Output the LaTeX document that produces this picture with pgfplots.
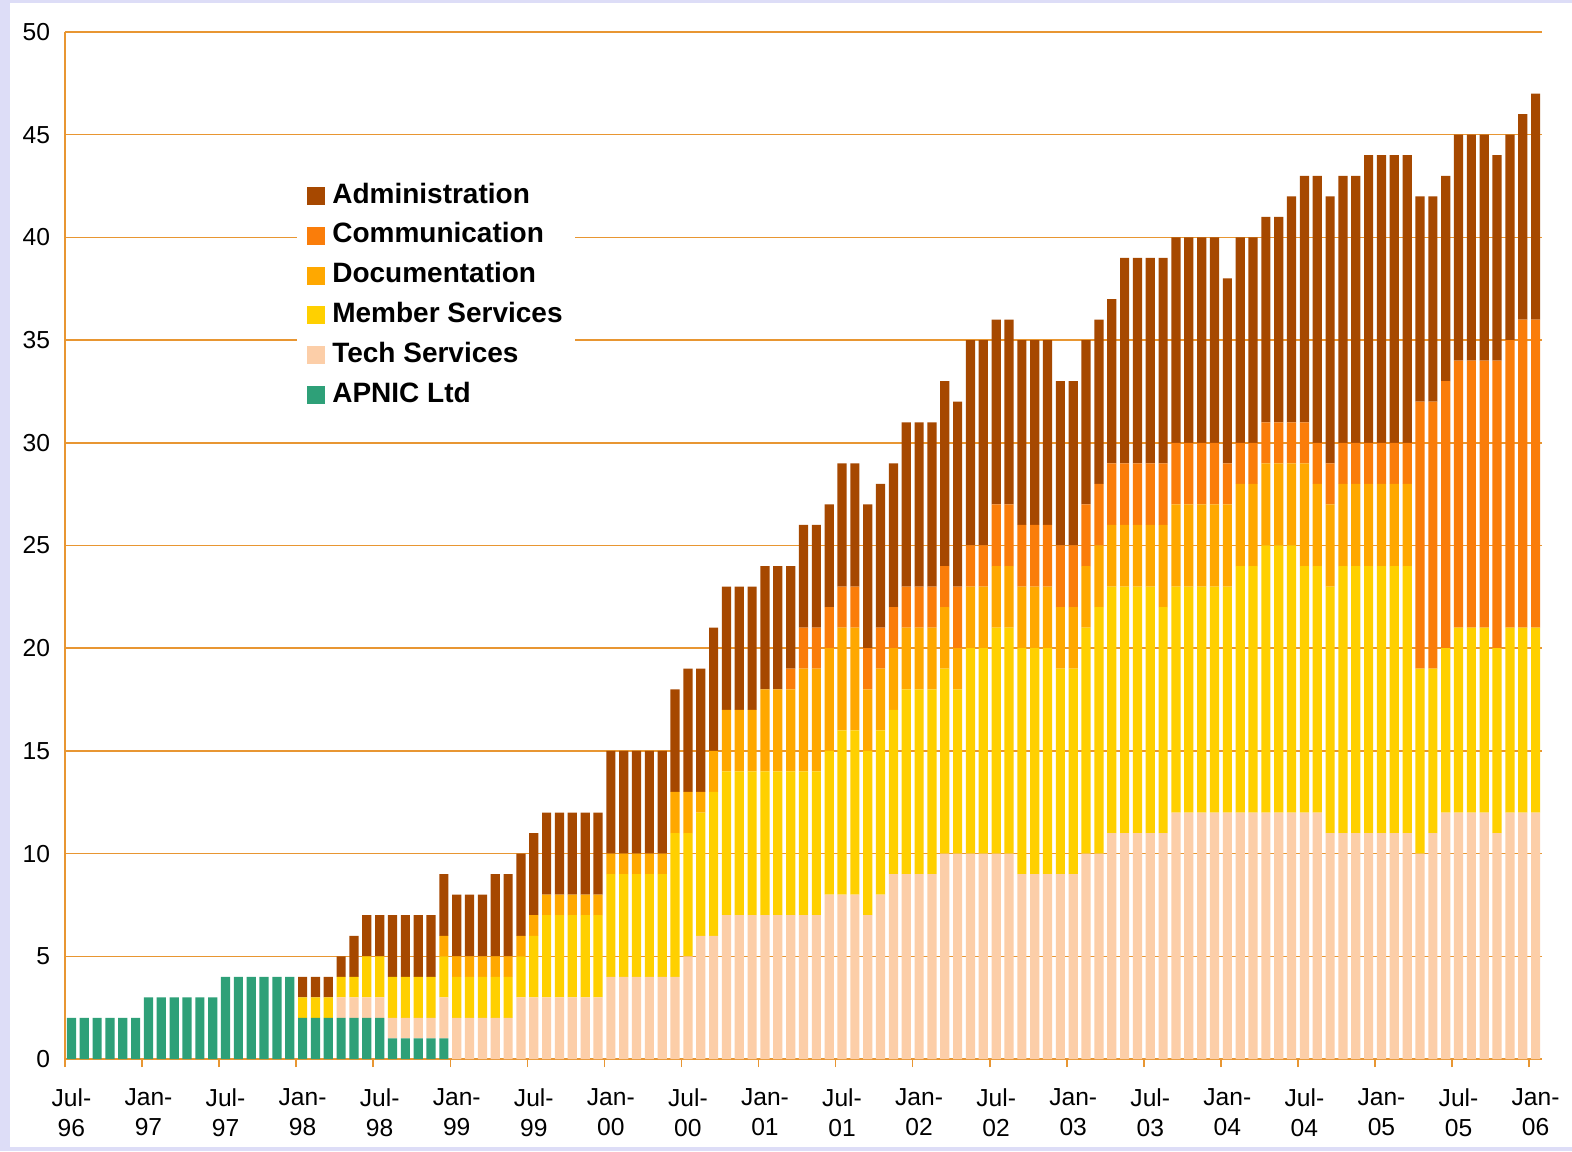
\documentclass[border=0pt]{standalone}
\usepackage{fontspec}
\setmainfont{Liberation Sans}
\usepackage{pgfplots}
\usepackage{pgfplotstable}
\pgfplotsset{compat=1.18}
\definecolor{adm}{RGB}{166,72,0}
\definecolor{com}{RGB}{250,125,10}
\definecolor{doc}{RGB}{255,168,0}
\definecolor{mem}{RGB}{255,208,0}
\definecolor{tech}{RGB}{252,206,168}
\definecolor{apn}{RGB}{46,160,120}
\definecolor{gridc}{RGB}{232,150,50}
\definecolor{bgl}{RGB}{221,221,247}
\pgfplotstableread{
x G T M D C A
0 2 0 0 0 0 0
1 2 0 0 0 0 0
2 2 0 0 0 0 0
3 2 0 0 0 0 0
4 2 0 0 0 0 0
5 2 0 0 0 0 0
6 3 0 0 0 0 0
7 3 0 0 0 0 0
8 3 0 0 0 0 0
9 3 0 0 0 0 0
10 3 0 0 0 0 0
11 3 0 0 0 0 0
12 4 0 0 0 0 0
13 4 0 0 0 0 0
14 4 0 0 0 0 0
15 4 0 0 0 0 0
16 4 0 0 0 0 0
17 4 0 0 0 0 0
18 2 0 1 0 0 1
19 2 0 1 0 0 1
20 2 0 1 0 0 1
21 2 1 1 0 0 1
22 2 1 1 0 0 2
23 2 1 2 0 0 2
24 2 1 2 0 0 2
25 1 1 2 0 0 3
26 1 1 2 0 0 3
27 1 1 2 0 0 3
28 1 1 2 0 0 3
29 1 2 2 1 0 3
30 0 2 2 1 0 3
31 0 2 2 1 0 3
32 0 2 2 1 0 3
33 0 2 2 1 0 4
34 0 2 2 1 0 4
35 0 3 2 1 0 4
36 0 3 3 1 0 4
37 0 3 4 1 0 4
38 0 3 4 1 0 4
39 0 3 4 1 0 4
40 0 3 4 1 0 4
41 0 3 4 1 0 4
42 0 4 5 1 0 5
43 0 4 5 1 0 5
44 0 4 5 1 0 5
45 0 4 5 1 0 5
46 0 4 5 1 0 5
47 0 4 7 2 0 5
48 0 5 6 2 0 6
49 0 6 6 1 0 6
50 0 6 7 2 0 6
51 0 7 7 3 0 6
52 0 7 7 3 0 6
53 0 7 7 3 0 6
54 0 7 7 4 0 6
55 0 7 7 4 0 6
56 0 7 7 4 1 5
57 0 7 7 5 2 5
58 0 7 7 5 2 5
59 0 8 7 5 2 5
60 0 8 8 5 2 6
61 0 8 8 5 2 6
62 0 7 8 3 2 7
63 0 8 8 3 2 7
64 0 9 8 3 2 7
65 0 9 9 3 2 8
66 0 9 9 3 2 8
67 0 9 9 3 2 8
68 0 10 9 3 2 9
69 0 10 8 2 3 9
70 0 10 10 3 2 10
71 0 10 10 3 2 10
72 0 10 11 3 3 9
73 0 10 11 3 3 9
74 0 9 11 3 3 9
75 0 9 11 3 3 9
76 0 9 11 3 3 9
77 0 9 10 3 3 8
78 0 9 10 3 3 8
79 0 10 11 3 3 8
80 0 10 12 3 3 8
81 0 11 12 3 3 8
82 0 11 12 3 3 10
83 0 11 12 3 3 10
84 0 11 12 3 3 10
85 0 11 11 4 3 10
86 0 12 11 4 3 10
87 0 12 11 4 3 10
88 0 12 11 4 3 10
89 0 12 11 4 3 10
90 0 12 11 4 2 9
91 0 12 12 4 2 10
92 0 12 12 4 2 10
93 0 12 13 4 2 10
94 0 12 13 4 2 10
95 0 12 13 4 2 11
96 0 12 12 5 2 12
97 0 12 12 4 2 13
98 0 11 12 4 2 13
99 0 11 13 4 2 13
100 0 11 13 4 2 13
101 0 11 13 4 2 14
102 0 11 13 4 2 14
103 0 11 13 4 2 14
104 0 11 13 4 2 14
105 0 10 9 0 13 10
106 0 11 8 0 13 10
107 0 12 8 0 13 10
108 0 12 9 0 13 11
109 0 12 9 0 13 11
110 0 12 9 0 13 11
111 0 11 9 0 14 10
112 0 12 9 0 14 10
113 0 12 9 0 15 10
114 0 12 9 0 15 11
}\staff
\begin{document}
\begin{tikzpicture}
\begin{scope}[x=0.5pt,y=0.5pt]
\fill[bgl] (0,0) rectangle (1572,1151);
\fill[white] (10,4) rectangle (1572,1148);
\path[use as bounding box] (0,0) rectangle (1572,1151);
\end{scope}
\begin{axis}[
  at={(32.5pt,46pt)}, anchor=south west,
  scale only axis, width=738.5pt, height=513.5pt,
  ybar stacked, bar width=4.6pt,
  xmin=-0.5, xmax=114.5, ymin=0, ymax=50,
  ytick={0,5,...,50},
  ymajorgrids, grid style={gridc, line width=0.8pt},
  axis lines*=left,
  axis line style={gridc, line width=0.8pt},
  xtick={0,6,...,114},
  xticklabels={{Jul-\\96},{Jan-\\97},{Jul-\\97},{Jan-\\98},{Jul-\\98},{Jan-\\99},{Jul-\\99},{Jan-\\00},{Jul-\\00},{Jan-\\01},{Jul-\\01},{Jan-\\02},{Jul-\\02},{Jan-\\03},{Jul-\\03},{Jan-\\04},{Jul-\\04},{Jan-\\05},{Jul-\\05},{Jan-\\06}},
  minor xtick={-0.5,5.5,...,113.5},
  major tick length=0pt, minor tick length=4pt, tick align=outside,
  minor x tick style={gridc, line width=0.8pt},
  /pgf/number format/assume math mode=true,
  xticklabel style={align=center, font=\fontsize{12.3}{15}\selectfont, yshift=-11.5pt},
  yticklabel style={font=\fontsize{12.3}{14}\selectfont, xshift=-4pt},
  reverse legend,
  legend image code/.code={\fill[#1] (0pt,-4.5pt) rectangle (9pt,4.5pt);},
  legend style={at={(axis description cs:0.157,0.863)}, anchor=north west,
    draw=none, fill=white, font=\fontsize{14}{16}\selectfont\bfseries,
    row sep=4.9pt, column sep=2.5pt, inner xsep=5pt, inner ysep=4pt,
    nodes={inner sep=1pt, text height=10pt, text depth=3pt}},
  legend cell align=left,
]
\addplot[fill=apn, draw=none] table[x=x,y=G]{\staff};
\addlegendentry{APNIC Ltd}
\addplot[fill=tech, draw=none] table[x=x,y=T]{\staff};
\addlegendentry{Tech Services}
\addplot[fill=mem, draw=none] table[x=x,y=M]{\staff};
\addlegendentry{Member Services}
\addplot[fill=doc, draw=none] table[x=x,y=D]{\staff};
\addlegendentry{Documentation}
\addplot[fill=com, draw=none] table[x=x,y=C]{\staff};
\addlegendentry{Communication}
\addplot[fill=adm, draw=none] table[x=x,y=A]{\staff};
\addlegendentry{Administration}
\end{axis}
\end{tikzpicture}
\end{document}
